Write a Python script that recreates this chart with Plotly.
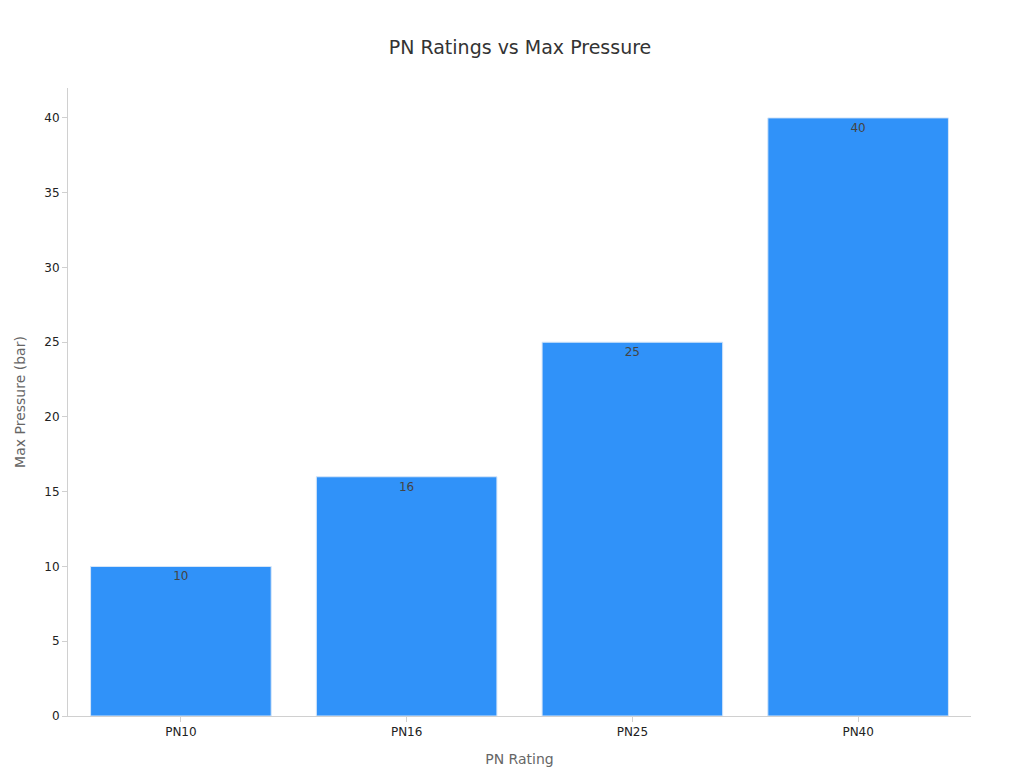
import plotly.graph_objects as go

ratings = ["PN10", "PN16", "PN25", "PN40"]
max_pressure = [10, 16, 25, 40]

fig = go.Figure()
fig.add_trace(go.Bar(
    x=ratings, y=max_pressure,
    text=max_pressure, textposition="inside", insidetextanchor="end",
    textfont=dict(color="#444444", size=12),
    marker=dict(color="#3092F9", line=dict(color="#D6E6F8", width=1)),
))

fig.update_layout(
    title=dict(text="PN Ratings vs Max Pressure", x=0.5, y=0.957, xanchor="center",
               font=dict(size=19, color="#333333")),
    font=dict(family="DejaVu Sans", size=12, color="#222222"),
    width=1024, height=768,
    margin=dict(l=60, r=61, t=80, b=60),
    plot_bgcolor="white", paper_bgcolor="white",
    bargap=0.2,
    showlegend=False,
    xaxis=dict(title=dict(text="PN Rating", font=dict(size=14, color="#666666")),
               showline=True, linecolor="#D0D0D0", ticks="outside",
               tickcolor="#D0D0D0", showgrid=False),
    yaxis=dict(title=dict(text="Max Pressure (bar)", font=dict(size=14, color="#666666")),
               range=[0, 42], dtick=5, showline=True, linecolor="#D0D0D0",
               ticks="outside", tickcolor="#D0D0D0", showgrid=False, zeroline=False),
)

fig.write_html("out.html")
